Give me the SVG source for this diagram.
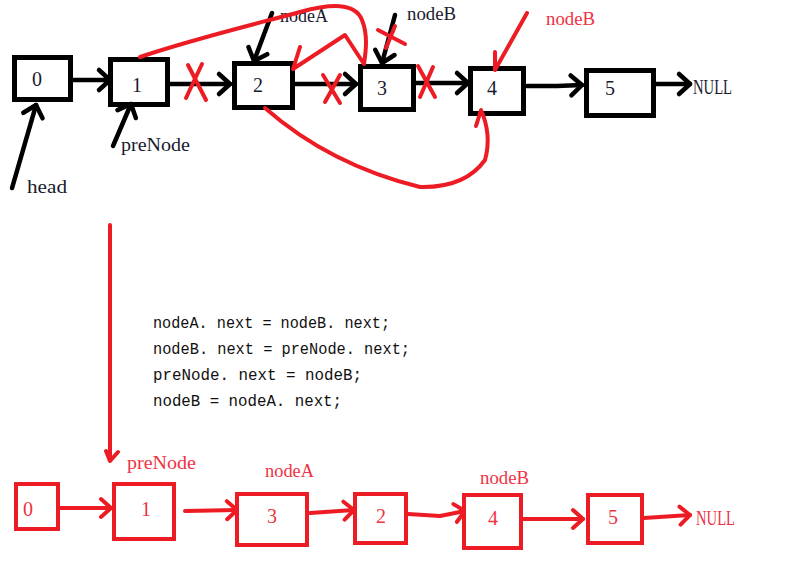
<svg xmlns="http://www.w3.org/2000/svg" width="789" height="566" viewBox="0 0 789 566">
  <style>
    .kbox { fill: #fff; stroke: #000; stroke-width: 5; }
    .rbox { fill: #fff; stroke: #ed1c24; stroke-width: 4; }
    .kline { fill: none; stroke: #000; stroke-width: 4.5; stroke-linecap: round; stroke-linejoin: round; }
    .rline { fill: none; stroke: #ed1c24; stroke-width: 4; stroke-linecap: round; stroke-linejoin: round; }
    .num { font-family: "Liberation Serif", serif; font-size: 20px; }
    .lbl { font-family: "Liberation Serif", serif; font-size: 18px; }
    .code { font-family: "Liberation Mono", monospace; font-size: 16px; fill: #111; }
    .dk { fill: #1a1a2e; }
    .rd { fill: #ee3344; }
  </style>
  <defs>
    <marker id="arrow-k" viewBox="-14 -14 28 28" markerWidth="28" markerHeight="28" markerUnits="userSpaceOnUse" orient="auto" refX="0" refY="0" overflow="visible">
      <path d="M-11,-10 L0,0 L-11,10" fill="none" stroke="#000" stroke-width="4.5" stroke-linecap="round" stroke-linejoin="round"/>
    </marker>
    <marker id="arrow-r" viewBox="-14 -14 28 28" markerWidth="28" markerHeight="28" markerUnits="userSpaceOnUse" orient="auto" refX="0" refY="0" overflow="visible">
      <path d="M-10,-9 L0,0 L-10,9" fill="none" stroke="#ed1c24" stroke-width="4" stroke-linecap="round" stroke-linejoin="round"/>
    </marker>
  </defs>

  <rect width="789" height="566" fill="#fff"/>

  <!-- original list -->
  <g id="top-n0"><rect class="kbox" x="14.5" y="57.5" width="56" height="42"/><text class="num dk" x="32" y="86">0</text></g>
  <g id="top-n1"><rect class="kbox" x="110.5" y="59.5" width="57" height="45"/><text class="num dk" x="132" y="92">1</text></g>
  <g id="top-n2"><rect class="kbox" x="234.5" y="63.5" width="58" height="44"/><text class="num dk" x="253" y="92">2</text></g>
  <g id="top-n3"><rect class="kbox" x="360.5" y="66.5" width="53" height="43"/><text class="num dk" x="377" y="95">3</text></g>
  <g id="top-n4"><rect class="kbox" x="470.5" y="68.5" width="53" height="45"/><text class="num dk" x="487" y="95">4</text></g>
  <g id="top-n5"><rect class="kbox" x="586.5" y="70.5" width="67" height="45"/><text class="num dk" x="605" y="95">5</text></g>
  <g id="top-null"><text class="num dk" x="693" y="94" textLength="39" lengthAdjust="spacingAndGlyphs">NULL</text></g>

  <!-- pointer labels, original list -->
  <g id="top-labels">
    <text class="lbl dk" x="27" y="193" textLength="40" lengthAdjust="spacingAndGlyphs">head</text>
    <text class="lbl dk" x="121" y="151" textLength="69" lengthAdjust="spacingAndGlyphs">preNode</text>
    <text class="lbl dk" x="280" y="22" textLength="48" lengthAdjust="spacingAndGlyphs">nodeA</text>
    <text class="lbl dk" x="407" y="20" textLength="49" lengthAdjust="spacingAndGlyphs">nodeB</text>
    <text class="lbl rd" x="546" y="25" textLength="49" lengthAdjust="spacingAndGlyphs">nodeB</text>
  </g>

  <g id="connectors">
    <!-- black links and pointers -->
    <path class="kline" d="M73,80 L110,80" marker-end="url(#arrow-k)"/>
    <path class="kline" d="M170,84 L230,84" marker-end="url(#arrow-k)"/>
    <path class="kline" d="M295,84 L356,84" marker-end="url(#arrow-k)"/>
    <path class="kline" d="M416,83 L468,83" marker-end="url(#arrow-k)"/>
    <path class="kline" d="M527,86 L557,86 L582,85" marker-end="url(#arrow-k)"/>
    <path class="kline" d="M656,84 L690,84" marker-end="url(#arrow-k)"/>
    <path class="kline" d="M12,188 L36,105" marker-end="url(#arrow-k)"/>
    <path class="kline" d="M113,146 L131,104" marker-end="url(#arrow-k)"/>
    <path class="kline" d="M272,13 L254,61" marker-end="url(#arrow-k)"/>
    <path class="kline" d="M395,15 L382,63" marker-end="url(#arrow-k)"/>

    <!-- red edits on the original list -->
    <path class="rline" d="M188,65 L206,100 M202,64 L186,98"/>
    <path class="rline" d="M323,75 L340,103 M340,75 L325,102"/>
    <path class="rline" d="M418,66 L435,97 M433,67 L420,97"/>
    <path class="rline" d="M378,30 L405,44 M395,26 L386,48"/>
    <path class="rline" d="M140,57 C190,40 240,28 300,12 C330,4 355,2 362,20 C368,35 366,50 364,64 L345,35 L293,69 L300,47"/>
    <path class="rline" d="M265,108 Q330,165 420,187 Q465,188 485,160 Q492,135 481,110 L476,126"/>
    <path class="rline" d="M527,13 L495,70 L495,52"/>
    <path class="rline" d="M110,225 L110,461 M106,451 L110,461 L118,452"/>

    <!-- red links, resulting list -->
    <path class="rline" d="M60,508 L111,508" marker-end="url(#arrow-r)"/>
    <path class="rline" d="M185,511 L237,510" marker-end="url(#arrow-r)"/>
    <path class="rline" d="M310,513 L354,510" marker-end="url(#arrow-r)"/>
    <path class="rline" d="M408,514 L440,516 L465,511" marker-end="url(#arrow-r)"/>
    <path class="rline" d="M523,519 L583,519" marker-end="url(#arrow-r)"/>
    <path class="rline" d="M644,518 L690,515" marker-end="url(#arrow-r)"/>
  </g>

  <!-- swap statements -->
  <g id="code">
    <text class="code" x="153" y="328" textLength="237" lengthAdjust="spacingAndGlyphs">nodeA. next = nodeB. next;</text>
    <text class="code" x="153" y="354" textLength="257" lengthAdjust="spacingAndGlyphs">nodeB. next = preNode. next;</text>
    <text class="code" x="153" y="380" textLength="209" lengthAdjust="spacingAndGlyphs">preNode. next = nodeB;</text>
    <text class="code" x="153" y="406" textLength="189" lengthAdjust="spacingAndGlyphs">nodeB = nodeA. next;</text>
  </g>

  <!-- resulting list -->
  <g id="bot-n0"><rect class="rbox" x="16" y="484" width="42" height="45"/><text class="num rd" x="23" y="516">0</text></g>
  <g id="bot-n1"><rect class="rbox" x="114" y="484" width="60" height="55"/><text class="num rd" x="141" y="516">1</text></g>
  <g id="bot-n3"><rect class="rbox" x="237" y="494" width="70" height="51"/><text class="num rd" x="267" y="523">3</text></g>
  <g id="bot-n2"><rect class="rbox" x="355" y="494" width="51" height="49"/><text class="num rd" x="376" y="523">2</text></g>
  <g id="bot-n4"><rect class="rbox" x="464" y="495" width="57" height="53"/><text class="num rd" x="488" y="525">4</text></g>
  <g id="bot-n5"><rect class="rbox" x="588" y="495" width="54" height="48"/><text class="num rd" x="608" y="524">5</text></g>
  <g id="bot-null"><text class="num rd" x="696" y="525" textLength="39" lengthAdjust="spacingAndGlyphs">NULL</text></g>

  <g id="bot-labels">
    <text class="lbl rd" x="127" y="469" textLength="69" lengthAdjust="spacingAndGlyphs">preNode</text>
    <text class="lbl rd" x="265" y="477" textLength="49" lengthAdjust="spacingAndGlyphs">nodeA</text>
    <text class="lbl rd" x="480" y="484" textLength="49" lengthAdjust="spacingAndGlyphs">nodeB</text>
  </g>
</svg>
